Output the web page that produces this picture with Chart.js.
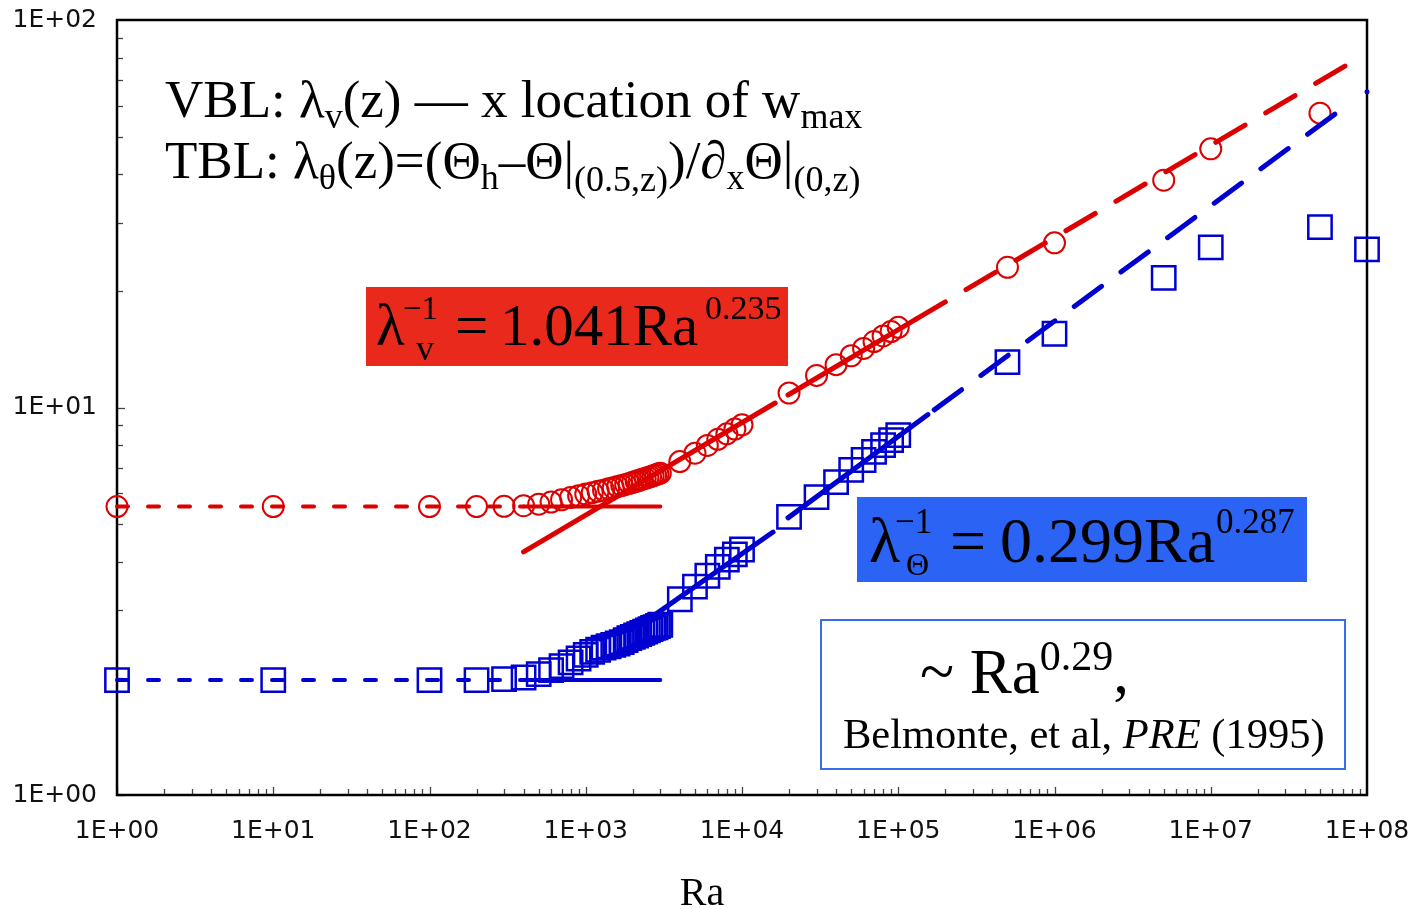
<!DOCTYPE html>
<html>
<head>
<meta charset="utf-8">
<script src="https://cdn.jsdelivr.net/npm/chart.js@4.4.1/dist/chart.umd.min.js"></script>
<style>
html, body { margin: 0; padding: 0; background: #fff; }
#wrap { width: 1413px; height: 909px; }
</style>
</head>
<body>
<div id="wrap"><canvas id="myChart"></canvas></div>
<script>
// Ra of every run (shared by both series)
const raValues = [1, 10, 100, 200, 300, 400, 500, 600, 700, 800, 900, 1000,
    1100, 1200, 1300, 1400, 1500, 1600, 1700, 1800, 1900, 2000,
    2100, 2200, 2300, 2400, 2500, 2600, 2700, 2800, 2900, 3000,
    4000, 5000, 6000, 7000, 8000, 9000, 10000,
    20000, 30000, 40000, 50000, 60000, 70000, 80000, 90000, 100000,
    500000, 1000000, 5000000, 10000000, 50000000];
// VBL thickness (red circles)
const lambdaV = [5.55, 5.55, 5.55, 5.55, 5.56, 5.58, 5.63, 5.70, 5.78, 5.86, 5.92, 5.98,
    6.03, 6.08, 6.12, 6.17, 6.21, 6.25, 6.29, 6.33, 6.37, 6.41,
    6.45, 6.49, 6.53, 6.56, 6.60, 6.63, 6.67, 6.70, 6.74, 6.77,
    7.25, 7.62, 7.98, 8.28, 8.55, 8.80, 9.02,
    10.9, 12.1, 12.9, 13.6, 14.2, 14.8, 15.3, 15.7, 16.1,
    23.0, 26.6, 38.6, 46.5, 57.5];
// TBL thickness (blue squares), one extra run at Ra=1e8
const raTheta = raValues.concat([100000000]);
const lambdaT = [1.98, 1.98, 1.98, 1.98, 1.99, 2.01, 2.05, 2.10, 2.15, 2.20, 2.25, 2.30,
    2.34, 2.37, 2.40, 2.42, 2.44, 2.46, 2.48, 2.51, 2.54, 2.56,
    2.58, 2.60, 2.62, 2.64, 2.66, 2.68, 2.70, 2.71, 2.73, 2.75,
    3.20, 3.45, 3.68, 3.88, 4.05, 4.18, 4.30,
    5.22, 5.87, 6.42, 6.90, 7.32, 7.68, 8.00, 8.24, 8.49,
    13.1, 15.5, 21.6, 25.9, 29.2, 25.6];
const stray = [{ x: 100000000, y: 65.3 }];

// plateau lines (low Ra)
const flatDotRa = [1, 400];
const flatSolidRa = [400, 3000];
const flatV = 5.55;
const flatT = 1.98;

// fitted power laws (segments)
const fitVRa1 = [400, 16300], fitV1 = [4.24, 10.27];
const fitVRa2 = [19700, 130000], fitV2 = [10.77, 16.9];
const fitVRa3 = [130000, 84000000], fitV3 = [16.9, 78.8];
const fitTRa1 = [2580, 15800], fitT1 = [2.86, 4.77];
const fitTRa2 = [19700, 155000], fitT2 = [5.19, 9.59];
const fitTRa3 = [170000, 78000000], fitT3 = [9.86, 61.1];

// axis ticks
const xTicks = [1, 10, 100, 1000, 10000, 100000, 1000000, 10000000, 100000000];
const xTickLabels = ['1E+00', '1E+01', '1E+02', '1E+03', '1E+04', '1E+05', '1E+06', '1E+07', '1E+08'];
const yTicks = [1, 10, 100];
const yTickLabels = ['1E+00', '1E+01', '1E+02'];

const RED = '#DD0000';
const BLUE = '#0000D0';
const SERIF = '"Liberation Serif", "Times New Roman", serif';

function pts(xs, ys) {
    return xs.map((x, i) => ({ x: x, y: Array.isArray(ys) ? ys[i] : ys }));
}

function lineSet(data, color, width, dash) {
    return {
        data: data,
        showLine: true,
        borderColor: color,
        borderWidth: width,
        borderDash: dash || [],
        borderCapStyle: 'round',
        pointRadius: 0,
        pointHoverRadius: 0,
        clip: false
    };
}

// draw a run of text pieces (super/subscripts) side by side
function drawRich(ctx, x, y, parts) {
    let cx = x;
    for (const p of parts) {
        ctx.font = (p[3] || '') + ' ' + p[1] + 'px ' + SERIF;
        ctx.fillText(p[0], cx, y + (p[2] || 0));
        cx += ctx.measureText(p[0]).width;
    }
    return cx;
}

// frame + inward log ticks
const framePlugin = {
    id: 'frame',
    beforeDatasetsDraw(chart) {
        const { ctx, chartArea: a, scales } = chart;
        ctx.save();
        ctx.strokeStyle = '#444';
        ctx.lineWidth = 1.3;
        for (let d = 0; d < 8; d++) {
            for (let k = 1; k <= 9; k++) {
                const px = Math.round(scales.x.getPixelForValue(k * Math.pow(10, d))) + 0.5;
                const len = k === 1 ? 8 : 6;
                ctx.beginPath();
                ctx.moveTo(px, a.bottom);
                ctx.lineTo(px, a.bottom - len);
                ctx.stroke();
            }
        }
        for (let d = 0; d < 2; d++) {
            for (let k = 1; k <= 9; k++) {
                const py = Math.round(scales.y.getPixelForValue(k * Math.pow(10, d))) + 0.5;
                const len = k === 1 ? 8 : 6;
                ctx.beginPath();
                ctx.moveTo(a.left, py);
                ctx.lineTo(a.left + len, py);
                ctx.stroke();
            }
        }
        ctx.strokeStyle = '#000';
        ctx.lineWidth = 2.5;
        ctx.strokeRect(a.left, a.top, a.right - a.left, a.bottom - a.top);
        ctx.restore();
    }
};

// text annotations and the x title
const notePlugin = {
    id: 'notes',
    afterDraw(chart) {
        const ctx = chart.ctx;
        ctx.save();
        ctx.fillStyle = '#000';
        ctx.textBaseline = 'alphabetic';
        ctx.textAlign = 'left';

        drawRich(ctx, 165, 117, [['VBL: λ', 53], ['v', 36, 11], ['(z) — x location of w', 53], ['max', 36, 11]]);
        drawRich(ctx, 165, 178, [['TBL: λ', 53], ['θ', 36, 11], ['(z)=(Θ', 53], ['h', 36, 11],
            ['–Θ|', 53], ['(0.5,z)', 36, 13], [')/∂', 53], ['x', 36, 11], ['Θ|', 53], ['(0,z)', 36, 13]]);

        // red fit box
        ctx.fillStyle = '#E8291C';
        ctx.fillRect(366, 287, 422, 79);
        ctx.fillStyle = '#000';
        drawRich(ctx, 376, 345, [['λ', 59]]);
        drawRich(ctx, 403, 319, [['−1', 33]]);
        drawRich(ctx, 416, 360, [['v', 36]]);
        drawRich(ctx, 455, 345, [['=', 59]]);
        drawRich(ctx, 500, 345, [['1.041Ra', 59]]);
        drawRich(ctx, 705, 319, [['0.235', 34]]);

        // blue fit box
        ctx.fillStyle = '#2B63F4';
        ctx.fillRect(857, 497, 450, 85);
        ctx.fillStyle = '#000';
        drawRich(ctx, 869, 562, [['λ', 64]]);
        drawRich(ctx, 895, 533, [['−1', 35]]);
        drawRich(ctx, 906, 575, [['Θ', 32]]);
        drawRich(ctx, 950, 562, [['=', 64]]);
        drawRich(ctx, 1000, 562, [['0.299Ra', 64]]);
        drawRich(ctx, 1216, 533, [['0.287', 35]]);

        // reference box
        ctx.strokeStyle = '#3A6CF0';
        ctx.lineWidth = 2;
        ctx.strokeRect(821, 620, 524, 149);
        drawRich(ctx, 920, 693, [['~ Ra', 63], ['0.29', 42, -23], [',', 63]]);
        drawRich(ctx, 843, 748, [['Belmonte, et al, ', 42.5], ['PRE', 42.5, 0, 'italic'], [' (1995)', 42.5]]);

        // x axis title
        ctx.textAlign = 'center';
        ctx.font = '40px ' + SERIF;
        ctx.fillText('Ra', 702, 905);
        ctx.restore();
    }
};

function createChart() {
    const ctx = document.getElementById('myChart').getContext('2d');
    new Chart(ctx, {
        type: 'scatter',
        data: {
            datasets: [
                lineSet(pts(flatDotRa, flatV), RED, 4, [11, 20]),
                lineSet(pts(flatSolidRa, flatV), RED, 4),
                lineSet(pts(flatDotRa, flatT), BLUE, 4, [11, 20]),
                lineSet(pts(flatSolidRa, flatT), BLUE, 4),
                lineSet(pts(fitVRa1, fitV1), RED, 5),
                lineSet(pts(fitVRa2, fitV2), RED, 5),
                lineSet(pts(fitVRa3, fitV3), RED, 5, [34, 24]),
                lineSet(pts(fitTRa1, fitT1), BLUE, 5),
                lineSet(pts(fitTRa2, fitT2), BLUE, 5),
                lineSet(pts(fitTRa3, fitT3), BLUE, 5, [34, 24]),
                {
                    data: pts(raValues, lambdaV),
                    pointStyle: 'circle',
                    pointRadius: 10.5,
                    borderWidth: 2,
                    borderColor: RED,
                    backgroundColor: 'rgba(0,0,0,0)',
                    clip: false
                },
                {
                    data: pts(raTheta, lambdaT),
                    pointStyle: 'rect',
                    pointRadius: 16.5,
                    borderWidth: 2.5,
                    borderColor: BLUE,
                    backgroundColor: 'rgba(0,0,0,0)',
                    clip: false
                },
                {
                    data: stray,
                    pointStyle: 'circle',
                    pointRadius: 2.5,
                    borderWidth: 0,
                    backgroundColor: BLUE,
                    clip: false
                }
            ]
        },
        options: {
            responsive: true,
            maintainAspectRatio: false,
            animation: false,
            events: [],
            layout: { padding: { top: 20, right: 46, left: 0, bottom: 0 } },
            plugins: {
                legend: { display: false },
                tooltip: { enabled: false }
            },
            scales: {
                x: {
                    type: 'logarithmic',
                    min: 1,
                    max: 100000000,
                    grid: { display: false, drawTicks: false },
                    border: { display: false },
                    afterBuildTicks: (s) => { s.ticks = xTicks.map(v => ({ value: v })); },
                    // fixed box: 114px tall, no extra side padding from labels
                    afterFit: (s) => { s.height = 114; s.paddingLeft = 0; s.paddingRight = 0; },
                    ticks: {
                        callback: (v, i) => xTickLabels[i],
                        autoSkip: false,
                        maxRotation: 0,
                        padding: 21,
                        color: '#111',
                        font: { family: '"DejaVu Sans", Verdana, sans-serif', size: 25 }
                    }
                },
                y: {
                    type: 'logarithmic',
                    min: 1,
                    max: 100,
                    grid: { display: false, drawTicks: false },
                    border: { display: false },
                    afterBuildTicks: (s) => { s.ticks = yTicks.map(v => ({ value: v })); },
                    afterFit: (s) => { s.width = 117; s.paddingTop = 0; s.paddingBottom = 0; },
                    ticks: {
                        callback: (v, i) => yTickLabels[i],
                        autoSkip: false,
                        padding: 20,
                        color: '#111',
                        font: { family: '"DejaVu Sans", Verdana, sans-serif', size: 25 }
                    }
                }
            }
        },
        plugins: [framePlugin, notePlugin]
    });
}

createChart();
</script>
</body>
</html>
